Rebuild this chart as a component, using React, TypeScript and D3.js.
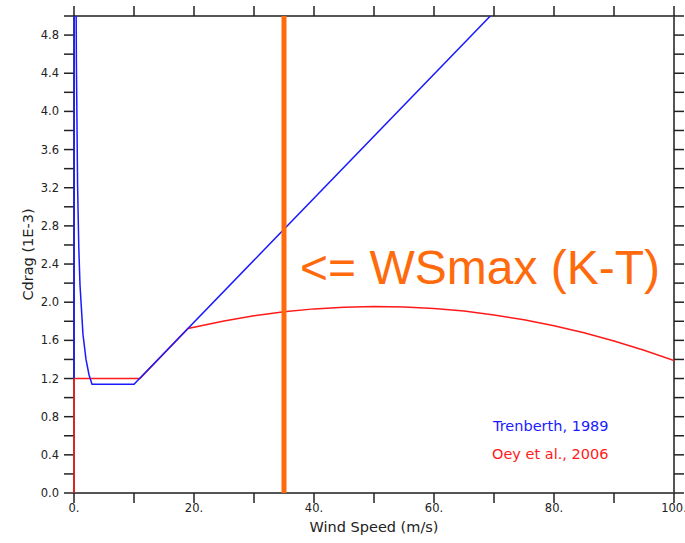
import React from "react";
import * as d3 from "d3";

// Trenberth, 1989
const trenU = [0, 0.1, 0.2, 0.3, 0.4, 0.6, 0.8, 1.0, 1.5, 2.0, 2.5, 3.0, 10, 70];
const trenCd = [1.2, 16.2, 8.4, 5.82, 4.52, 3.22, 2.57, 2.18, 1.66, 1.40, 1.24, 1.14, 1.14, 5.04];

// Oey et al., 2006
const oeyU = [0, 0, 11, 19, 25, 30, 35, 40, 45, 50, 55, 60, 65, 70, 75, 80, 85, 90, 95, 100];
const oeyCd = [0, 1.2, 1.2, 1.725, 1.804, 1.858, 1.899, 1.93, 1.948, 1.955, 1.95, 1.934, 1.907, 1.867, 1.816, 1.754, 1.68, 1.594, 1.497, 1.388];

const wsMax = [35];
const xTicksMajor = [0, 20, 40, 60, 80, 100];
const xTickLabels = ["0.", "20.", "40.", "60.", "80.", "100."];
const xTicksAll = [0, 10, 20, 30, 40, 50, 60, 70, 80, 90, 100];
const yTicksMajor = [0, 0.4, 0.8, 1.2, 1.6, 2.0, 2.4, 2.8, 3.2, 3.6, 4.0, 4.4, 4.8];
const yTicksAll = d3.range(0, 26).map((i) => i * 0.2);

const L = 74, R = 674, T = 16, B = 493;

export default function App() {
  const x = d3.scaleLinear().domain([0, 100]).range([L, R]);
  const y = d3.scaleLinear().domain([0, 5]).range([B, T]);
  const line = d3.line<[number, number]>().x((d) => x(d[0])).y((d) => y(d[1]));
  const tren = trenU.map((u, i) => [u, trenCd[i]] as [number, number]);
  const oey = oeyU.map((u, i) => [u, oeyCd[i]] as [number, number]);
  const font = "'DejaVu Sans', sans-serif";
  return (
    <svg width={685} height={543} style={{ position: "absolute", left: 0, top: 0, background: "#fff" }}>
      <defs>
        <clipPath id="plot">
          <rect x={L - 2} y={T} width={R - L + 2} height={B - T} />
        </clipPath>
      </defs>
      <rect width={685} height={543} fill="#fff" />
      {/* frame */}
      <rect x={L} y={T} width={R - L} height={B - T} fill="none" stroke="#555" strokeWidth={2} />
      {/* ticks */}
      {xTicksAll.map((t) => (
        <g key={"xt" + t}>
          <line x1={x(t)} x2={x(t)} y1={B} y2={B + 10} stroke="#222" strokeWidth={1.5} />
          <line x1={x(t)} x2={x(t)} y1={T} y2={T - 10} stroke="#222" strokeWidth={1.5} />
        </g>
      ))}
      {yTicksAll.map((t) => (
        <g key={"yt" + t}>
          <line x1={L} x2={L - 10} y1={y(t)} y2={y(t)} stroke="#222" strokeWidth={1.5} />
          <line x1={R} x2={R + 10} y1={y(t)} y2={y(t)} stroke="#222" strokeWidth={1.5} />
        </g>
      ))}
      <g clipPath="url(#plot)">
        <path d={line(oey) || ""} fill="none" stroke="#ff1a1a" strokeWidth={1.5} />
        <path d={line(tren) || ""} fill="none" stroke="#1a1aff" strokeWidth={1.5} />
      </g>
      {xTicksMajor.map((t, i) => (
        <text key={"xl" + t} x={x(t)} y={512} textAnchor="middle" fontFamily={font} fontSize={11.5} fill="#222">
          {xTickLabels[i]}
        </text>
      ))}
      {yTicksMajor.map((t) => (
        <text key={"yl" + t} x={59} y={y(t) + 4} textAnchor="end" fontFamily={font} fontSize={11.5} fill="#222">
          {t.toFixed(1)}
        </text>
      ))}
      <text x={(L + R) / 2} y={532} textAnchor="middle" fontFamily={font} fontSize={14.5} fill="#222">
        Wind Speed (m/s)
      </text>
      <text transform={`translate(33, ${(T + B) / 2}) rotate(-90)`} textAnchor="middle" fontFamily={font} fontSize={14.5} fill="#222">
        Cdrag (1E-3)
      </text>
      {/* WSmax line */}
      {wsMax.map((w) => (
        <line key={"ws" + w} x1={x(w)} x2={x(w)} y1={T} y2={B} stroke="#ff6a0d" strokeWidth={5} />
      ))}
      <text x={300} y={284} fontFamily="'Liberation Sans', Arial, sans-serif" fontSize={48} fill="#ff6a0d">
        {"<= WSmax (K-T)"}
      </text>
      {/* legend */}
      <text x={493} y={431} fontFamily={font} fontSize={14.5} fill="#1a1aff">Trenberth, 1989</text>
      <text x={492} y={459} fontFamily={font} fontSize={14.5} fill="#ff1a1a">Oey et al., 2006</text>
    </svg>
  );
}
